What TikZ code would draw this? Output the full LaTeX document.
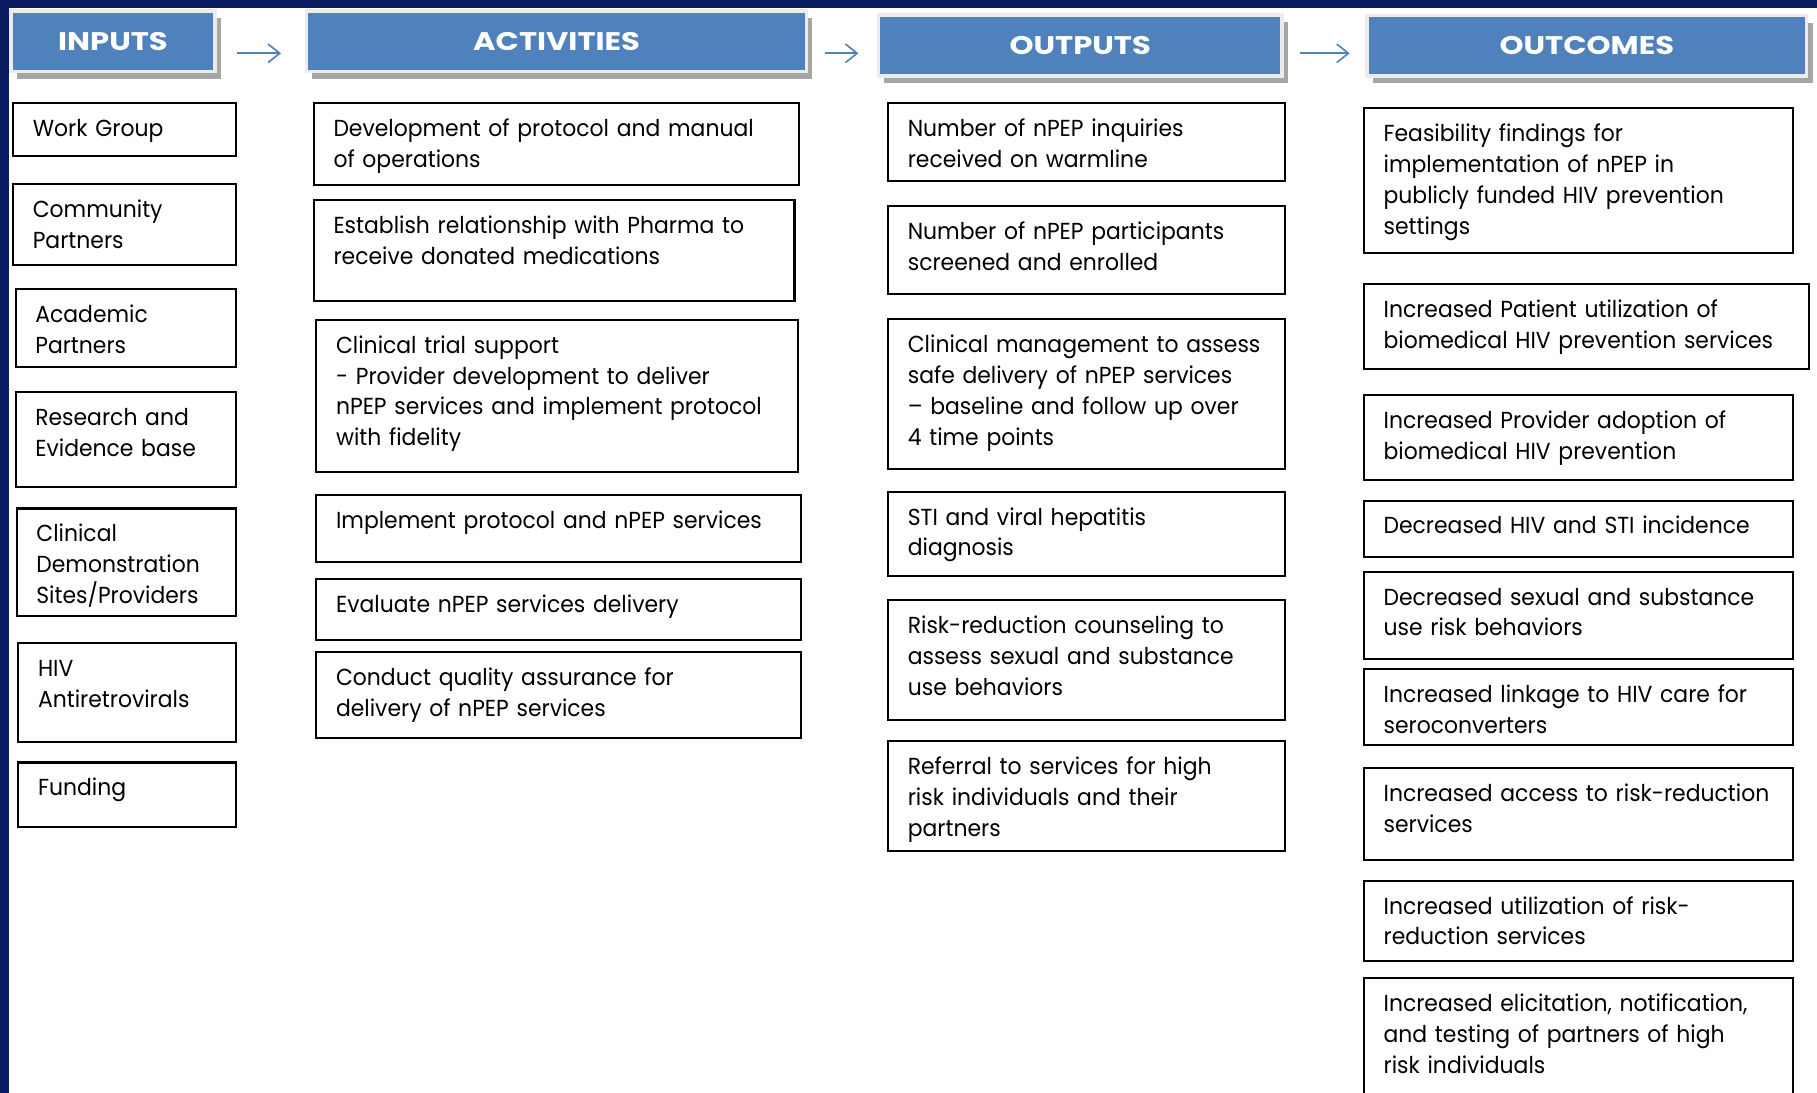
\documentclass[tikz,border=0pt]{standalone}
\usepackage{fontspec}
\setmainfont{Poppins}[FakeStretch=0.945]
\newfontfamily\headfont[FakeStretch=1.2]{Poppins}
\usetikzlibrary{positioning,arrows.meta,shadows}

\definecolor{slidenavy}{RGB}{11,29,96}
\definecolor{headblue}{RGB}{79,129,189}

\hyphenpenalty=10000
\exhyphenpenalty=10000

\begin{document}
\begin{tikzpicture}[
  x=1pt, y=1pt,
  font=\fontsize{10}{13.3}\selectfont,
  >={Straight Barb[length=5pt,width=8pt]},
  head/.style={fill=headblue, draw=gray!15, line width=1.5pt, text=white,
               font=\headfont\bfseries\fontsize{11}{13}\selectfont,
               anchor=north west, inner sep=0pt, outer sep=0pt,
               drop shadow={shadow xshift=2.5pt, shadow yshift=-3pt, fill=gray!70, opacity=1}},
  cell/.style={draw, line width=0.9pt, anchor=north west, align=left,
               inner xsep=8.5pt, inner ysep=0pt, outer sep=0pt, text height=14.4pt},
  dims/.style 2 args={minimum width=#1, text width=#1-17pt, text depth=#2-14.4pt},
  flow/.style={->, headblue, line width=0.7pt},
]
\useasboundingbox (0,0) rectangle (784,-471.5);
\clip (0,0) rectangle (784,-471.5);

% ===== slide frame =====
\fill[white] (0,0) rectangle (784,-471.5);
\fill[slidenavy] (0,0) rectangle (784,-3.3);
\fill[slidenavy] (0,0) rectangle (3.7,-471.5);

% ===== column heads =====
\node[head, minimum width=88pt,    minimum height=26.2pt] (inH)   at (4.75,-4.75)   {INPUTS};
\node[head, minimum width=215.8pt, minimum height=26.2pt] (actH)  at (132.25,-4.75) {ACTIVITIES};
\node[head, minimum width=174.3pt, minimum height=26.3pt] (outH)  at (378.95,-6.45) {OUTPUTS};
\node[head, minimum width=189.7pt, minimum height=26pt]   (outcH) at (589.85,-6.75) {OUTCOMES};

% ===== arrows between heads =====
\draw[flow, shorten <=9.5pt, shorten >=11pt]
  ([yshift=-5.15pt]inH.east) -- ([yshift=-5.15pt]inH.east -| actH.west);
\draw[flow, shorten <=8pt, shorten >=8.6pt]
  ([yshift=-5.15pt]actH.east) -- ([yshift=-5.15pt]actH.east -| outH.west);
\draw[flow, shorten <=7.7pt, shorten >=7.5pt]
  ([yshift=-3.4pt]outH.east) -- ([yshift=-3.4pt]outH.east -| outcH.west);

% ===== inputs =====
\node[cell, dims={96.35pt}{22.6pt}, anchor=north east] (wg) at (102,-44.6) {Work Group};
\node[cell, dims={96.35pt}{34.9pt}, below=12.3pt of wg.south east, anchor=north east] (cp) {Community\\Partners};
\node[cell, dims={95.25pt}{33.8pt}, below=10.3pt of cp.south east, anchor=north east] (ap) {Academic\\Partners};
\node[cell, dims={95.25pt}{40.7pt}, below=10.8pt of ap.south east, anchor=north east] (re) {Research and\\Evidence base};
\node[cell, dims={94.8pt}{46.3pt},  below=9.4pt of re.south east, anchor=north east] (cd) {Clinical\\Demonstration\\Sites/Providers};
\node[cell, dims={94.1pt}{42.5pt},  below=11.8pt of cd.south east, anchor=north east] (hiv) {HIV\\Antiretrovirals};
\node[cell, dims={94.1pt}{27.7pt},  below=9pt of hiv.south east, anchor=north east] (fund) {Funding};

% ===== activities =====
\node[cell, dims={209.2pt}{35.3pt}] (dev) at (135.4,-44.6) {Development of protocol and manual\\of operations};
\node[cell, dims={207.4pt}{43.6pt}, below=6.4pt of dev.south west, anchor=north west] (pharma) {Establish relationship with Pharma to\\receive donated medications};
\node[cell, dims={207.85pt}{65.5pt}, below=8.1pt of pharma.south west, anchor=north west, xshift=1.1pt] (trial) {Clinical trial support\\- Provider development to deliver\\nPEP services and implement protocol\\with fidelity};
\node[cell, dims={208.95pt}{28.85pt}, below=10pt of trial.south west, anchor=north west] (impl) {Implement protocol and nPEP services};
\node[cell, dims={208.95pt}{26.3pt}, below=7.65pt of impl.south west, anchor=north west] (eval) {Evaluate nPEP services delivery};
\node[cell, dims={208.95pt}{37pt}, below=5.2pt of eval.south west, anchor=north west] (qa) {Conduct quality assurance for\\delivery of nPEP services};

% ===== outputs =====
\node[cell, dims={171.2pt}{33.5pt}] (inq) at (383.2,-44.6) {Number of nPEP inquiries\\received on warmline};
\node[cell, dims={171.2pt}{38.1pt}, below=10.8pt of inq.south west, anchor=north west] (part) {Number of nPEP participants\\screened and enrolled};
\node[cell, dims={171.2pt}{64.7pt}, below=10.8pt of part.south west, anchor=north west] (mgmt) {Clinical management to assess\\safe delivery of nPEP services\\– baseline and follow up over\\4 time points};
\node[cell, dims={171.2pt}{36.35pt}, below=9.65pt of mgmt.south west, anchor=north west] (sti) {STI and viral hepatitis\\diagnosis};
\node[cell, dims={171.2pt}{51.75pt}, below=10.4pt of sti.south west, anchor=north west] (risk) {Risk-reduction counseling to\\assess sexual and substance\\use behaviors};
\node[cell, dims={171.2pt}{47.25pt}, below=9.1pt of risk.south west, anchor=north west] (ref) {Referral to services for high\\risk individuals and their\\partners};

% ===== outcomes =====
\node[cell, dims={185pt}{62.55pt}] (feas) at (588.5,-46.75) {Feasibility findings for\\implementation of nPEP in\\publicly funded HIV prevention\\settings};
\node[cell, dims={192pt}{36.85pt}, below=13.2pt of feas.south west, anchor=north west] (pat) {Increased Patient utilization of\\biomedical HIV prevention services};
\node[cell, dims={185pt}{36.5pt}, below=11.15pt of pat.south west, anchor=north west] (prov) {Increased Provider adoption of\\biomedical HIV prevention};
\node[cell, dims={185pt}{24.5pt}, below=9pt of prov.south west, anchor=north west] (dec) {Decreased HIV and STI incidence};
\node[cell, dims={185pt}{37.85pt}, below=6.15pt of dec.south west, anchor=north west] (sex) {Decreased sexual and substance\\use risk behaviors};
\node[cell, dims={185pt}{32.7pt}, below=4.3pt of sex.south west, anchor=north west] (link) {Increased linkage to HIV care for\\seroconverters};
\node[cell, dims={185pt}{39.5pt}, below=10pt of link.south west, anchor=north west] (acc) {Increased access to risk-reduction\\services};
\node[cell, dims={185pt}{34.5pt}, below=9pt of acc.south west, anchor=north west] (util) {Increased utilization of risk-\\reduction services};
\node[cell, dims={185pt}{60pt}, below=7.65pt of util.south west, anchor=north west] (elic) {Increased elicitation, notification,\\and testing of partners of high\\risk individuals};
\end{tikzpicture}
\end{document}
